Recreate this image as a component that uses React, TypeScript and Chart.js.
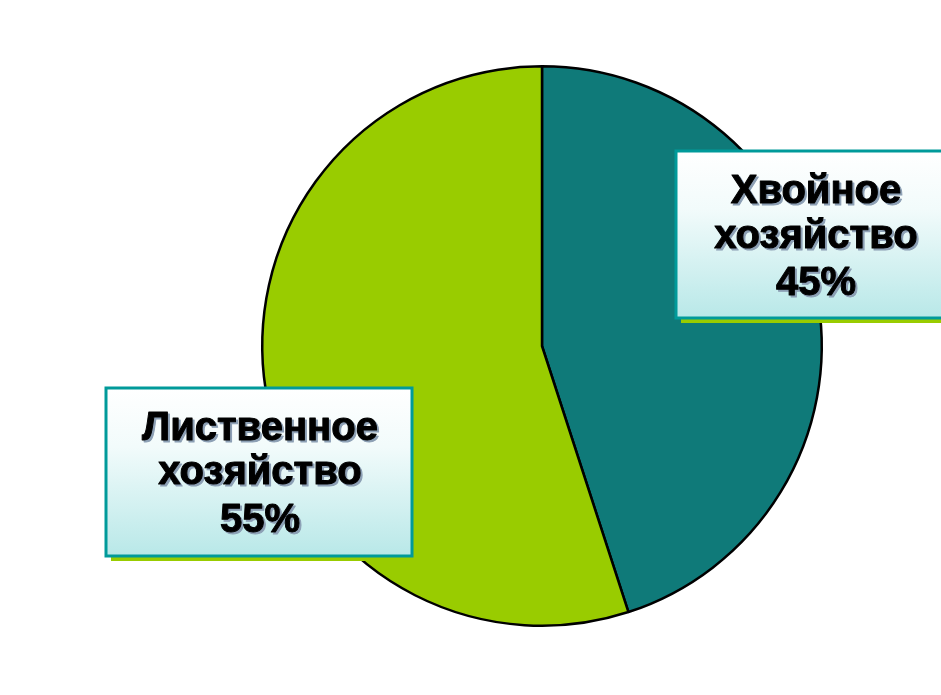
import React, { useEffect, useRef } from "react";
import { Chart, registerables } from "chart.js";

Chart.register(...registerables);

const categories = ["Хвойное хозяйство", "Лиственное хозяйство"];
const shares = [45, 55];
const sliceColors = ["#0f7a79", "#99cc00"];
const labelLines = [
  ["Хвойное", "хозяйство", "45%"],
  ["Лиственное", "хозяйство", "55%"],
];

const labelBoxes = {
  id: "labelBoxes",
  afterDraw(chart: any) {
    const ctx = chart.ctx as CanvasRenderingContext2D;
    const boxes = [
      { x: 676, y: 151, w: 290, h: 167, cx: 816, base: [203, 248, 295] },
      { x: 106, y: 388, w: 306, h: 168, cx: 260, base: [440, 484, 532] },
    ];
    boxes.forEach((b, i) => {
      ctx.save();
      ctx.fillStyle = "#99cc00";
      ctx.fillRect(b.x + 5, b.y + 5, b.w, b.h);
      const g = ctx.createLinearGradient(0, b.y, 0, b.y + b.h);
      g.addColorStop(0, "#ffffff");
      g.addColorStop(0.35, "#f2fbfb");
      g.addColorStop(1, "#b8e8e8");
      ctx.fillStyle = g;
      ctx.fillRect(b.x, b.y, b.w, b.h);
      ctx.lineWidth = 3;
      ctx.strokeStyle = "#009a9a";
      ctx.strokeRect(b.x, b.y, b.w, b.h);
      ctx.font = "bold 40px 'Liberation Sans', Arial, sans-serif";
      ctx.textAlign = "center";
      ctx.textBaseline = "alphabetic";
      ctx.lineJoin = "round";
      labelLines[i].forEach((t, j) => {
        ctx.fillStyle = "#8c9fb4";
        ctx.strokeStyle = "#8c9fb4";
        ctx.lineWidth = 1;
        ctx.strokeText(t, b.cx + 2, b.base[j] + 2);
        ctx.fillText(t, b.cx + 2, b.base[j] + 2);
        ctx.fillStyle = "#000000";
        ctx.strokeStyle = "#000000";
        ctx.strokeText(t, b.cx, b.base[j]);
        ctx.fillText(t, b.cx, b.base[j]);
      });
      ctx.restore();
    });
  },
};

export default function App() {
  const ref = useRef<HTMLCanvasElement | null>(null);
  useEffect(() => {
    document.body.style.margin = "0";
    document.body.style.background = "#ffffff";
    const chart = new Chart(ref.current!, {
      type: "pie",
      data: {
        labels: categories,
        datasets: [
          {
            data: shares,
            backgroundColor: sliceColors,
            borderColor: "#000000",
            borderWidth: 2.5,
          },
        ],
      },
      options: {
        animation: false,
        responsive: true,
        maintainAspectRatio: false,
        layout: { padding: { left: 261, right: 118, top: 65, bottom: 68 } },
        plugins: {
          legend: { display: false },
          tooltip: { enabled: false },
        },
      },
      plugins: [labelBoxes],
    });
    return () => chart.destroy();
  }, []);
  return (
    <div style={{ position: "absolute", left: 0, top: 0, width: 941, height: 695 }}>
      <canvas ref={ref} />
    </div>
  );
}
